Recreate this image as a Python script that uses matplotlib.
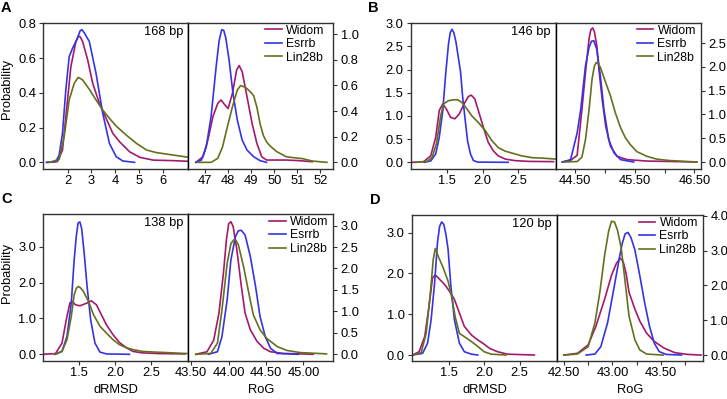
import matplotlib
matplotlib.use("Agg")
import matplotlib.pyplot as plt

plt.rcParams["font.family"] = ["Liberation Sans", "DejaVu Sans"]

SERIES = ["Widom", "Esrrb", "Lin28b"]
COLORS = ["#a3196c", "#3434e6", "#66701c"]

# --- A: 168 bp ---
A_DRMSD_X_WIDOM = [1.13, 1.58, 1.79, 1.93, 2.14, 2.35, 2.45, 2.53, 2.63, 2.84, 3.05, 3.33, 3.61, 3.89, 4.17, 4.59, 5.02, 5.58, 6.42, 7.06]
A_DRMSD_Y_WIDOM = [0, 0.005, 0.07, 0.26, 0.55, 0.695, 0.725, 0.722, 0.695, 0.59, 0.455, 0.34, 0.253, 0.167, 0.119, 0.061, 0.029, 0.013, 0.01, 0.006]
A_DRMSD_X_ESRRB = [1.13, 1.51, 1.65, 1.79, 1.93, 2.07, 2.21, 2.42, 2.52, 2.60, 2.70, 2.91, 3.19, 3.47, 3.75, 4.03, 4.31, 4.80]
A_DRMSD_Y_ESRRB = [0, 0.004, 0.042, 0.167, 0.417, 0.608, 0.656, 0.714, 0.755, 0.763, 0.745, 0.695, 0.512, 0.282, 0.109, 0.033, 0.008, 0]
A_DRMSD_X_LIN28B = [1.23, 1.65, 1.86, 2.07, 2.28, 2.45, 2.63, 2.91, 3.19, 3.47, 3.75, 4.03, 4.45, 4.88, 5.30, 5.72, 6.42, 7.06]
A_DRMSD_Y_LIN28B = [0, 0.017, 0.148, 0.359, 0.455, 0.489, 0.474, 0.42, 0.359, 0.301, 0.253, 0.209, 0.157, 0.109, 0.071, 0.056, 0.042, 0.029]

A_ROG_X_WIDOM = [46.59, 46.90, 47.11, 47.33, 47.54, 47.68, 47.85, 47.99, 48.18, 48.36, 48.47, 48.60, 48.81, 49.03, 49.24, 49.45, 49.66, 50.09, 50.51, 51.08, 51.65]
A_ROG_Y_WIDOM = [0, 0.044, 0.174, 0.357, 0.46, 0.487, 0.448, 0.42, 0.54, 0.72, 0.755, 0.708, 0.513, 0.305, 0.148, 0.044, 0.018, 0.018, 0.018, 0.013, 0.005]
A_ROG_X_ESRRB = [46.59, 46.83, 47.04, 47.25, 47.47, 47.60, 47.71, 47.80, 47.89, 48.03, 48.20, 48.39, 48.60, 48.81, 49.10, 49.38, 49.66]
A_ROG_Y_ESRRB = [0, 0.018, 0.12, 0.357, 0.747, 0.95, 1.035, 1.03, 0.97, 0.80, 0.54, 0.33, 0.174, 0.096, 0.044, 0.013, 0]
A_ROG_X_LIN28B = [46.69, 47.25, 47.54, 47.75, 47.96, 48.18, 48.39, 48.53, 48.74, 48.95, 49.10, 49.24, 49.38, 49.52, 49.66, 49.80, 50.09, 50.51, 50.94, 51.22, 51.65, 52.28]
A_ROG_Y_LIN28B = [0, 0, 0.031, 0.122, 0.279, 0.435, 0.565, 0.599, 0.586, 0.552, 0.52, 0.43, 0.30, 0.21, 0.16, 0.13, 0.085, 0.044, 0.034, 0.029, 0.010, 0]

# --- B: 146 bp ---
B_DRMSD_X_WIDOM = [1.01, 1.17, 1.27, 1.34, 1.39, 1.44, 1.49, 1.55, 1.61, 1.67, 1.75, 1.80, 1.84, 1.89, 1.94, 2.01, 2.08, 2.15, 2.22, 2.32, 2.46, 2.65, 3.0]
B_DRMSD_Y_WIDOM = [0, 0.014, 0.14, 0.54, 1.12, 1.26, 1.15, 0.97, 0.94, 1.04, 1.29, 1.42, 1.45, 1.37, 1.12, 0.76, 0.43, 0.25, 0.14, 0.07, 0.036, 0.02, 0.015]
B_DRMSD_X_ESRRB = [1.18, 1.27, 1.34, 1.39, 1.44, 1.48, 1.52, 1.545, 1.57, 1.595, 1.625, 1.65, 1.69, 1.72, 1.76, 1.79, 1.83, 1.87, 1.93, 2.36]
B_DRMSD_Y_ESRRB = [0, 0.03, 0.18, 0.54, 1.12, 1.9, 2.55, 2.80, 2.87, 2.80, 2.6, 2.35, 1.95, 1.4, 0.85, 0.45, 0.18, 0.04, 0.005, 0]
B_DRMSD_X_LIN28B = [1.06, 1.22, 1.29, 1.35, 1.41, 1.45, 1.52, 1.59, 1.65, 1.71, 1.78, 1.85, 1.94, 2.04, 2.13, 2.22, 2.32, 2.46, 2.55, 2.7, 2.85, 3.03]
B_DRMSD_Y_LIN28B = [0, 0.02, 0.11, 0.40, 1.0, 1.26, 1.33, 1.35, 1.35, 1.29, 1.15, 1.0, 0.86, 0.68, 0.47, 0.32, 0.24, 0.18, 0.14, 0.1, 0.09, 0.07]

B_ROG_X_WIDOM = [44.28, 44.42, 44.53, 44.61, 44.67, 44.73, 44.76, 44.79, 44.82, 44.86, 44.89, 44.95, 45.01, 45.09, 45.20, 45.37, 45.70, 46.54]
B_ROG_Y_WIDOM = [0, 0.036, 0.14, 1.1, 1.88, 2.59, 2.78, 2.82, 2.74, 2.45, 2.02, 1.32, 0.75, 0.33, 0.12, 0.05, 0.02, 0]
B_ROG_X_ESRRB = [44.28, 44.42, 44.53, 44.59, 44.67, 44.73, 44.77, 44.81, 44.86, 44.92, 44.98, 45.06, 45.15, 45.26, 45.48]
B_ROG_Y_ESRRB = [0, 0.05, 0.61, 1.1, 2.02, 2.41, 2.54, 2.55, 2.37, 1.81, 1.1, 0.47, 0.19, 0.05, 0]
B_ROG_X_LIN28B = [44.30, 44.53, 44.61, 44.67, 44.73, 44.78, 44.82, 44.85, 44.88, 44.92, 45.01, 45.09, 45.17, 45.26, 45.34, 45.42, 45.53, 45.70, 45.87, 46.09, 46.54]
B_ROG_Y_LIN28B = [0, 0.01, 0.1, 0.47, 1.1, 1.74, 2.02, 2.09, 2.08, 1.99, 1.67, 1.39, 1.04, 0.72, 0.51, 0.37, 0.22, 0.12, 0.06, 0.03, 0]

# --- C: 138 bp ---
C_DRMSD_X_WIDOM = [1.0, 1.17, 1.26, 1.32, 1.37, 1.40, 1.45, 1.51, 1.61, 1.67, 1.74, 1.81, 1.88, 1.97, 2.06, 2.16, 2.25, 2.38, 2.6, 2.97]
C_DRMSD_Y_WIDOM = [0, 0.02, 0.31, 0.96, 1.43, 1.47, 1.38, 1.35, 1.43, 1.49, 1.38, 1.10, 0.82, 0.55, 0.33, 0.18, 0.08, 0.04, 0.02, 0.01]
C_DRMSD_X_ESRRB = [1.17, 1.26, 1.33, 1.39, 1.43, 1.46, 1.485, 1.51, 1.535, 1.57, 1.61, 1.66, 1.72, 1.79, 1.88, 2.2]
C_DRMSD_Y_ESRRB = [0, 0.08, 0.5, 1.43, 2.63, 3.3, 3.66, 3.69, 3.5, 2.81, 1.89, 0.96, 0.31, 0.06, 0.01, 0]
C_DRMSD_X_LIN28B = [1.15, 1.26, 1.33, 1.39, 1.43, 1.46, 1.49, 1.52, 1.56, 1.63, 1.70, 1.79, 1.88, 1.97, 2.06, 2.16, 2.25, 2.38, 2.57, 2.8, 3.0]
C_DRMSD_Y_LIN28B = [0, 0.08, 0.41, 1.06, 1.66, 1.84, 1.89, 1.85, 1.75, 1.47, 1.10, 0.78, 0.59, 0.41, 0.27, 0.18, 0.13, 0.08, 0.06, 0.04, 0.02]

C_ROG_X_WIDOM = [43.56, 43.71, 43.80, 43.87, 43.93, 43.97, 44.0, 44.03, 44.06, 44.11, 44.17, 44.22, 44.29, 44.38, 44.47, 44.56, 44.73, 44.96, 45.13]
C_ROG_Y_WIDOM = [0, 0.06, 0.33, 0.96, 1.89, 2.67, 3.04, 3.09, 2.98, 2.43, 1.58, 0.96, 0.57, 0.30, 0.14, 0.06, 0.02, 0.01, 0]
C_ROG_X_ESRRB = [43.73, 43.85, 43.91, 43.98, 44.03, 44.09, 44.13, 44.17, 44.22, 44.29, 44.36, 44.42, 44.49, 44.56, 44.65, 44.93]
C_ROG_Y_ESRRB = [0, 0.06, 0.41, 1.27, 2.2, 2.74, 2.88, 2.89, 2.78, 2.28, 1.58, 0.88, 0.41, 0.14, 0.02, 0]
C_ROG_X_LIN28B = [43.56, 43.76, 43.85, 43.91, 43.98, 44.03, 44.07, 44.10, 44.13, 44.20, 44.27, 44.33, 44.42, 44.51, 44.65, 44.78, 44.96, 45.31]
C_ROG_Y_LIN28B = [0, 0.02, 0.26, 1.03, 2.12, 2.58, 2.67, 2.65, 2.55, 2.04, 1.42, 0.92, 0.57, 0.37, 0.18, 0.09, 0.04, 0.01]

# --- D: 120 bp ---
D_DRMSD_X_WIDOM = [0.99, 1.08, 1.16, 1.22, 1.27, 1.31, 1.35, 1.44, 1.51, 1.58, 1.65, 1.72, 1.82, 1.91, 1.98, 2.08, 2.19, 2.33, 2.71]
D_DRMSD_Y_WIDOM = [0, 0.08, 0.45, 1.19, 1.89, 1.96, 1.89, 1.73, 1.56, 1.36, 1.03, 0.70, 0.49, 0.37, 0.29, 0.16, 0.08, 0.02, 0]
D_DRMSD_X_ESRRB = [0.99, 1.13, 1.20, 1.25, 1.30, 1.34, 1.37, 1.40, 1.43, 1.46, 1.49, 1.53, 1.58, 1.65, 1.72, 1.82, 1.91]
D_DRMSD_Y_ESRRB = [0, 0.04, 0.29, 0.86, 1.77, 2.75, 3.15, 3.26, 3.2, 2.95, 2.59, 1.68, 0.86, 0.29, 0.08, 0.02, 0]
D_DRMSD_X_LIN28B = [0.99, 1.11, 1.18, 1.24, 1.28, 1.31, 1.35, 1.42, 1.49, 1.54, 1.59, 1.65, 1.72, 1.82, 1.91, 2.0, 2.1, 2.31]
D_DRMSD_Y_LIN28B = [0, 0.06, 0.53, 1.52, 2.34, 2.61, 2.42, 2.14, 1.81, 1.44, 0.94, 0.53, 0.45, 0.33, 0.21, 0.08, 0.02, 0]

D_ROG_X_WIDOM = [42.5, 42.64, 42.75, 42.83, 42.92, 42.99, 43.04, 43.08, 43.11, 43.14, 43.17, 43.23, 43.28, 43.35, 43.43, 43.53, 43.64, 43.77, 43.91]
D_ROG_Y_WIDOM = [0, 0.05, 0.29, 0.83, 1.61, 2.29, 2.63, 2.78, 2.68, 2.34, 1.8, 1.32, 0.98, 0.63, 0.39, 0.2, 0.07, 0.02, 0]
D_ROG_X_ESRRB = [42.73, 42.82, 42.88, 42.95, 43.02, 43.07, 43.10, 43.13, 43.16, 43.19, 43.23, 43.28, 43.33, 43.38, 43.43, 43.48, 43.55, 43.71]
D_ROG_Y_ESRRB = [0, 0.03, 0.24, 0.93, 2.0, 2.78, 3.2, 3.48, 3.52, 3.37, 3.02, 2.29, 1.51, 0.83, 0.34, 0.10, 0.02, 0]
D_ROG_X_LIN28B = [42.5, 42.64, 42.75, 42.82, 42.87, 42.92, 42.96, 42.99, 43.02, 43.05, 43.09, 43.13, 43.17, 43.23, 43.28, 43.35, 43.52]
D_ROG_Y_LIN28B = [0, 0.03, 0.24, 0.93, 1.80, 2.88, 3.55, 3.84, 3.82, 3.6, 3.07, 2.10, 1.12, 0.44, 0.15, 0.03, 0]

W, H = 727, 399
fig = plt.figure(figsize=(W / 100, H / 100), dpi=100)

FS = 9.3
SPINE = "#333333"


def rect(x0, x1, y0, y1):
    # pixel box (top-down y) -> figure fraction
    return [x0 / W, 1 - y1 / H, (x1 - x0) / W, (y1 - y0) / H]


def style(ax):
    for s in ax.spines.values():
        s.set_color(SPINE)
        s.set_linewidth(1.0)
    ax.tick_params(direction="out", length=3, width=0.8, color=SPINE, labelsize=FS)
    ax.tick_params(axis="x", pad=1)
    ax.tick_params(axis="y", pad=2.2)


def draw_panel(box_l, box_r, curves_l, curves_r, lims, ticks, bp, letter, leg_dx):
    ax_l = fig.add_axes(box_l)
    ax_r = fig.add_axes(box_r)
    for (x, y), c in zip(curves_l, COLORS):
        ax_l.plot(x, y, color=c, lw=1.2)
    for (x, y), c, name in zip(curves_r, COLORS, SERIES):
        ax_r.plot(x, y, color=c, lw=1.2, label=name)
    (xl, yl), (xr, yr) = lims
    ax_l.set_xlim(xl); ax_l.set_ylim(yl)
    ax_r.set_xlim(xr); ax_r.set_ylim(yr)
    (xtl, xll, ytl, yll), (xtr, xlr, ytr, ylr) = ticks
    ax_l.set_xticks(xtl, xll)
    ax_l.set_yticks(ytl, yll)
    ax_r.set_xticks(xtr, xlr)
    ax_r.yaxis.tick_right()
    ax_r.set_yticks(ytr, ylr)
    style(ax_l); style(ax_r)
    ax_r.spines["left"].set_color("black")
    ax_l.spines["right"].set_color("black")
    ax_l.text(1 - 5 / 145, 1 - 3 / 146, bp, transform=ax_l.transAxes,
              ha="right", va="top", fontsize=FS)
    ax_r.legend(loc="upper right", bbox_to_anchor=(1 - leg_dx / 145, 1 - 2 / 146),
                frameon=False, fontsize=8.8, handlelength=1.35, handletextpad=0.35,
                labelspacing=0.12, borderaxespad=0, borderpad=0)
    x0 = box_l[0] * W
    y_top = (1 - box_l[1] - box_l[3]) * H
    fig.text((x0 - 37) / W, 1 - (y_top - 15) / H, letter, fontsize=10.5,
             fontweight="bold", ha="center", va="center")
    return ax_l, ax_r


def fmt(vals, f):
    return [format(v, f) for v in vals]


# A
draw_panel(
    rect(43.3, 188.3, 22.7, 169), rect(188.3, 333.3, 22.7, 169),
    [(A_DRMSD_X_WIDOM, A_DRMSD_Y_WIDOM), (A_DRMSD_X_ESRRB, A_DRMSD_Y_ESRRB), (A_DRMSD_X_LIN28B, A_DRMSD_Y_LIN28B)],
    [(A_ROG_X_WIDOM, A_ROG_Y_WIDOM), (A_ROG_X_ESRRB, A_ROG_Y_ESRRB), (A_ROG_X_LIN28B, A_ROG_Y_LIN28B)],
    [((0.99, 7.04), (-0.038, 0.803)), ((46.26, 52.56), (-0.052, 1.09))],
    [([2, 3, 4, 5, 6], fmt([2, 3, 4, 5, 6], "d"), [0, 0.2, 0.4, 0.6, 0.8], fmt([0, 0.2, 0.4, 0.6, 0.8], ".1f")),
     ([47, 48, 49, 50, 51, 52], fmt([47, 48, 49, 50, 51, 52], "d"), [0, 0.2, 0.4, 0.6, 0.8, 1.0], fmt([0, 0.2, 0.4, 0.6, 0.8, 1.0], ".1f"))],
    "168 bp", "A", 9)

# B
draw_panel(
    rect(410.5, 555.7, 22.7, 169), rect(555.7, 701, 22.7, 169),
    [(B_DRMSD_X_WIDOM, B_DRMSD_Y_WIDOM), (B_DRMSD_X_ESRRB, B_DRMSD_Y_ESRRB), (B_DRMSD_X_LIN28B, B_DRMSD_Y_LIN28B)],
    [(B_ROG_X_WIDOM, B_ROG_Y_WIDOM), (B_ROG_X_ESRRB, B_ROG_Y_ESRRB), (B_ROG_X_LIN28B, B_ROG_Y_LIN28B)],
    [((0.985, 3.03), (-0.144, 3.013)), ((44.17, 46.61), (-0.147, 2.93))],
    [([1.5, 2.0, 2.5], fmt([1.5, 2.0, 2.5], ".1f"), [0, 0.5, 1, 1.5, 2, 2.5, 3], fmt([0, 0.5, 1, 1.5, 2, 2.5, 3], ".1f")),
     ([44.5, 45.0, 45.5, 46.0, 46.5], ["44.50", "", "45.50", "", "46.50"], [0, 0.5, 1, 1.5, 2, 2.5], fmt([0, 0.5, 1, 1.5, 2, 2.5], ".1f"))],
    "146 bp", "B", 5)

# C
draw_panel(
    rect(43.3, 188.3, 214, 361), rect(188.3, 333.3, 214, 361),
    [(C_DRMSD_X_WIDOM, C_DRMSD_Y_WIDOM), (C_DRMSD_X_ESRRB, C_DRMSD_Y_ESRRB), (C_DRMSD_X_LIN28B, C_DRMSD_Y_LIN28B)],
    [(C_ROG_X_WIDOM, C_ROG_Y_WIDOM), (C_ROG_X_ESRRB, C_ROG_Y_ESRRB), (C_ROG_X_LIN28B, C_ROG_Y_LIN28B)],
    [((1.0, 3.02), (-0.187, 3.91)), ((43.46, 45.4), (-0.156, 3.27))],
    [([1.5, 2.0, 2.5], fmt([1.5, 2.0, 2.5], ".1f"), [0, 1, 2, 3], fmt([0, 1, 2, 3], ".1f")),
     ([43.5, 44.0, 44.5, 45.0], fmt([43.5, 44.0, 44.5, 45.0], ".2f"), [0, 0.5, 1, 1.5, 2, 2.5, 3], fmt([0, 0.5, 1, 1.5, 2, 2.5, 3], ".1f"))],
    "138 bp", "C", 5)

# D
draw_panel(
    rect(412, 557, 215, 361), rect(557, 703, 215, 361),
    [(D_DRMSD_X_WIDOM, D_DRMSD_Y_WIDOM), (D_DRMSD_X_ESRRB, D_DRMSD_Y_ESRRB), (D_DRMSD_X_LIN28B, D_DRMSD_Y_LIN28B)],
    [(D_ROG_X_WIDOM, D_ROG_Y_WIDOM), (D_ROG_X_ESRRB, D_ROG_Y_ESRRB), (D_ROG_X_LIN28B, D_ROG_Y_LIN28B)],
    [((0.98, 3.03), (-0.147, 3.43)), ((42.43, 43.93), (-0.17, 4.02))],
    [([1.5, 2.0, 2.5], fmt([1.5, 2.0, 2.5], ".1f"), [0, 1, 2, 3], fmt([0, 1, 2, 3], ".1f")),
     ([42.5, 42.75, 43.0, 43.25, 43.5, 43.75], ["42.50", "", "43.00", "", "43.50", ""], [0, 1, 2, 3, 4], fmt([0, 1, 2, 3, 4], ".1f"))],
    "120 bp", "D", 5)

# shared axis titles placed in pixel positions
for yc in (89, 273):
    fig.text(7.5 / W, 1 - yc / H, "Probability", rotation=90, fontsize=FS,
             ha="center", va="center")
for xc, label in ((115.8, "dRMSD"), (260.8, "RoG"), (484.5, "dRMSD"), (630, "RoG")):
    fig.text(xc / W, 1 - 390 / H, label, fontsize=FS, ha="center", va="center")

fig.savefig("out.png", dpi=100)
